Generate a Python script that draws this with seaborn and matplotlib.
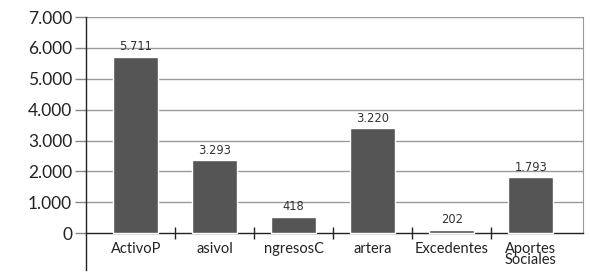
import numpy as np
import pandas as pd
import matplotlib
matplotlib.use('Agg')
import matplotlib.pyplot as plt
import seaborn as sns

categorias = ['ActivoP', 'asivol', 'ngresosC', 'artera', 'Excedentes', 'Aportes\nSociales']
# altura de las barras tal como se ve en la imagen
alturas = [5700, 2360, 520, 3400, 100, 1810]
# rotulos que aparecen encima de cada barra
rotulos = ['5.711', '3.293', '418', '3.220', '202', '1.793']
yticks = [0, 1000, 2000, 3000, 4000, 5000, 6000, 7000]
ytick_labels = ['0', '1.000', '2.000', '3.000', '4.000', '5.000', '6.000', '7.000']

sns.set_style('white')
plt.rcParams['font.family'] = ['Lato', 'DejaVu Sans']

df = pd.DataFrame({'cat': categorias, 'valor': alturas})

fig = plt.figure(figsize=(5.9, 2.73), dpi=100)
ax = fig.add_axes([86 / 590, 1 - 270 / 273, (583 - 86) / 590, (270 - 17) / 273])

sns.barplot(data=df, x='cat', y='valor', color='#555555', width=0.57,
            saturation=1, ax=ax, zorder=3)

ax.set_xlim(-0.63, 5.66)
ax.set_ylim(-1190, 7000)
ax.set_yticks(yticks)
ax.set_yticklabels(ytick_labels, fontsize=12.5, color='#222222')
ax.tick_params(axis='y', left=True, length=8, color='#888888', width=1, pad=2)
for y in yticks[1:]:
    ax.axhline(y, color='#9a9a9a', lw=1, zorder=1)

# eje x en el cero
ax.spines['bottom'].set_position(('data', 0))
ax.spines['bottom'].set_color('#222222')
ax.spines['bottom'].set_linewidth(1)
ax.spines['top'].set_visible(False)
ax.spines['right'].set_bounds(0, 7000)
ax.spines['right'].set_color('#999999')
ax.spines['left'].set_color('#222222')
ax.spines['left'].set_linewidth(1)

ax.set_xticks(range(len(categorias)))
ax.set_xticklabels(categorias, fontsize=10.5, color='#222222', linespacing=0.8)
ax.tick_params(axis='x', bottom=True, length=0, pad=6)
ax.set_xticks(np.arange(0.5, len(categorias) - 1, 1), minor=True)
ax.tick_params(axis='x', which='minor', bottom=True, length=9, direction='inout',
               color='#222222', width=1)
ax.set_xlabel('')
ax.set_ylabel('')

for i, (h, t) in enumerate(zip(alturas, rotulos)):
    ax.text(i, h + 120, t, ha='center', va='bottom', fontsize=8.3,
            color='#333333', family=['DejaVu Sans'])

fig.savefig('out.png', dpi=100)
